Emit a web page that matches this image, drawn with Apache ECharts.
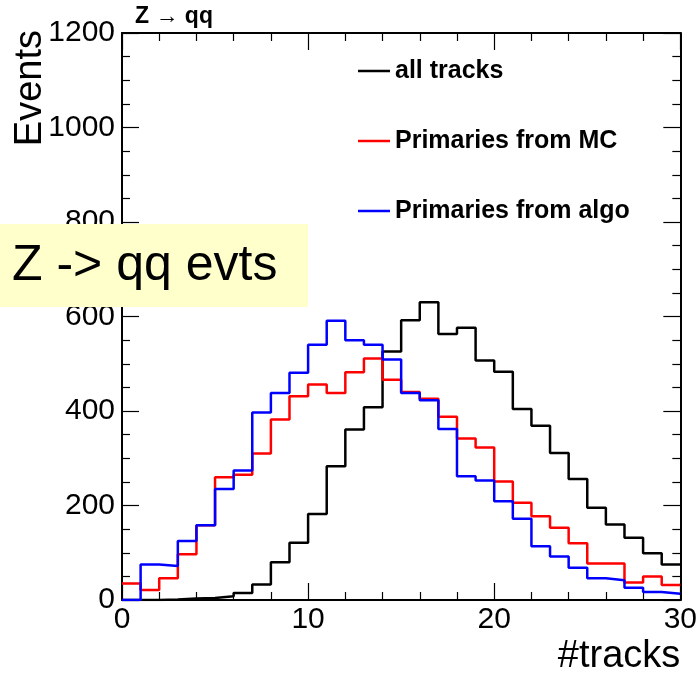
<!DOCTYPE html>
<html><head><meta charset="utf-8">
<script src="https://cdn.jsdelivr.net/npm/echarts@6/dist/echarts.min.js"></script>
<style>html,body{margin:0;padding:0;background:#fff}#c{width:700px;height:684px}</style>
</head><body><div id="c"></div>
<script>
// Histogram bins: 30 bins of width 1 from 0 to 30 (#tracks)
const xMin = 0, xMax = 30;
const yMin = 0, yMax = 1200;
const allTracks     = [0, 0, 1, 3, 4, 8, 15, 33, 80, 121, 182, 283, 361, 408, 526, 592, 630, 563, 576, 507, 483, 404, 369, 311, 256, 195, 160, 132, 99, 75];
const primariesMC   = [35, 21, 46, 97, 158, 260, 265, 310, 382, 431, 456, 438, 482, 511, 466, 440, 426, 388, 342, 323, 251, 206, 177, 153, 120, 77, 77, 37, 50, 32];
const primariesAlgo = [0, 75, 72, 125, 158, 235, 274, 397, 438, 481, 540, 591, 550, 540, 509, 438, 423, 362, 262, 253, 209, 172, 114, 92, 68, 46, 42, 26, 17, 13];
const seriesNames = ['all tracks', 'Primaries from MC', 'Primaries from algo'];
const seriesColors = ['#000000', '#ff0000', '#0000ff'];
const titleText = 'Z \u2192 qq';
const boxText = 'Z -> qq evts';
const xTitle = '#tracks';
const yTitle = 'Events';

const FONT = '"Liberation Sans", Arial, Helvetica, sans-serif';

function toSteps(arr) {
  const d = arr.map((v, i) => [xMin + i, v]);
  d.push([xMin + arr.length, arr[arr.length - 1]]);
  return d;
}

const tickCommon = {
  axisLine: { show: true, onZero: false, lineStyle: { color: '#000', width: 2 } },
  axisTick: { show: true, inside: true, length: 17, lineStyle: { color: '#000', width: 1.2 } },
  splitLine: { show: false }
};

const chart = echarts.init(document.getElementById('c'), null, { renderer: 'canvas' });
chart.setOption({
  animation: false,
  backgroundColor: '#ffffff',
  title: {
    text: titleText, left: 135, top: 5, padding: 0,
    textStyle: { fontSize: 23, fontWeight: 'bold', color: '#000', fontFamily: FONT }
  },
  legend: {
    data: seriesNames,
    orient: 'vertical',
    left: 353, top: 51,
    icon: 'rect', itemWidth: 32, itemHeight: 2.5, itemGap: 40,
    textStyle: { fontSize: 25, fontWeight: 'bold', color: '#000', lineHeight: 30, fontFamily: FONT }
  },
  grid: { left: 122, right: 18, top: 33, bottom: 84 },
  xAxis: [
    Object.assign({
      type: 'value', min: xMin, max: xMax, interval: 10, position: 'bottom',
      minorTick: { show: true, splitNumber: 5, length: 8, lineStyle: { color: '#000', width: 1.2 } },
      axisLabel: { color: '#000', fontSize: 30, fontFamily: FONT, margin: 5, showMinLabel: true, showMaxLabel: true,
                   formatter: v => String(v) },
      name: xTitle, nameLocation: 'end', nameGap: 0,
      nameTextStyle: { align: 'right', verticalAlign: 'top', fontSize: 38, color: '#000', fontFamily: FONT, padding: [38, 0, 0, 0] }
    }, tickCommon),
    Object.assign({
      type: 'value', min: xMin, max: xMax, interval: 10, position: 'top',
      minorTick: { show: true, splitNumber: 5, length: 8, lineStyle: { color: '#000', width: 1.2 } },
      axisLabel: { show: false }
    }, tickCommon)
  ],
  yAxis: [
    Object.assign({
      type: 'value', min: yMin, max: yMax, interval: 200, position: 'left',
      minorTick: { show: true, splitNumber: 4, length: 8, lineStyle: { color: '#000', width: 1.2 } },
      axisLabel: { color: '#000', fontSize: 30, fontFamily: FONT, margin: 7, padding: [8, 0, 0, 0], showMinLabel: true, showMaxLabel: true,
                   formatter: v => String(v) }
    }, tickCommon),
    Object.assign({
      type: 'value', min: yMin, max: yMax, interval: 200, position: 'right',
      minorTick: { show: true, splitNumber: 4, length: 8, lineStyle: { color: '#000', width: 1.2 } },
      axisLabel: { show: false }
    }, tickCommon)
  ],
  series: [allTracks, primariesMC, primariesAlgo].map((arr, k) => ({
    name: seriesNames[k],
    type: 'line',
    step: 'end',
    xAxisIndex: 0, yAxisIndex: 0,
    showSymbol: false,
    color: seriesColors[k],
    lineStyle: { color: seriesColors[k], width: 2.5 },
    data: toSteps(arr),
    z: 2 + k
  })),
  graphic: [
    {
      type: 'text', x: 31, y: 30, rotation: Math.PI / 2, z: 10,
      style: { text: yTitle, fontSize: 38, fontFamily: FONT, fill: '#000', align: 'right', verticalAlign: 'middle' }
    },
    {
      type: 'rect', z: 20,
      shape: { x: 0, y: 224, width: 308, height: 83 },
      style: { fill: '#ffffcc' }
    },
    {
      type: 'text', x: 12, y: 266, z: 21,
      style: { text: boxText, fontSize: 50, fontFamily: FONT, fill: '#000', align: 'left', verticalAlign: 'middle' }
    }
  ]
});
</script>
</body></html>
